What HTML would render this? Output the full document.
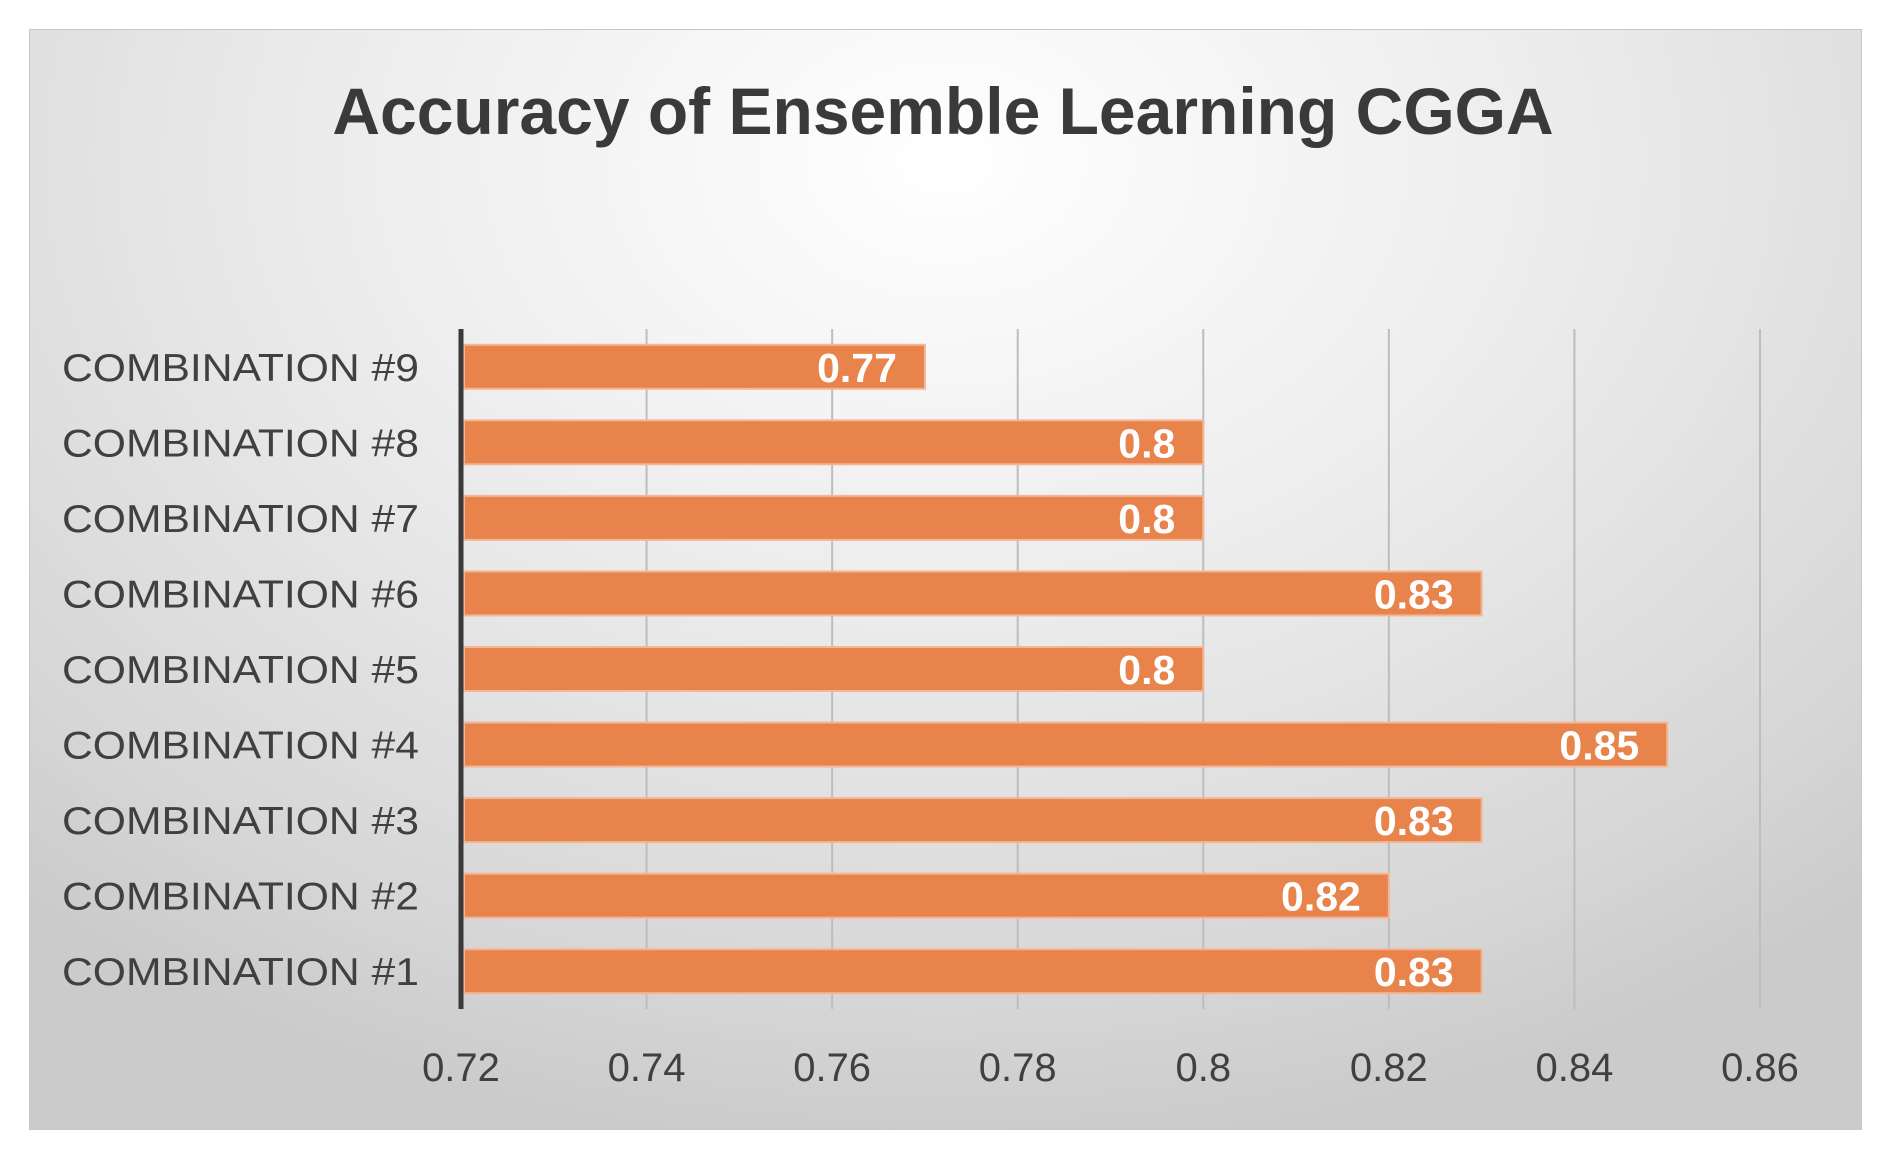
<!DOCTYPE html>
<html><head><meta charset="utf-8"><style>
html,body{margin:0;padding:0;background:#fff;}
body{width:1878px;height:1157px;overflow:hidden;position:relative;font-family:"Liberation Sans",sans-serif;}
#frame{position:absolute;left:29px;top:29px;width:1831px;height:1099px;background:radial-gradient(ellipse 75% 90% at 50% 12%,#ffffff 0%,#ececec 45%,#d6d6d6 85%,#cbcbcb 100%);border:1px solid #c8c8c8;}
</style></head><body>
<div id="frame"></div>
<svg id="chart" width="1878" height="1157" style="position:absolute;left:0;top:0">
<text x="943" y="134" text-anchor="middle" font-size="66" font-weight="bold" fill="#3a3a3a">Accuracy of Ensemble Learning CGGA</text>
<g id="grid"></g><g id="bars"></g><g id="labels"></g><g id="ticks"></g>
<line x1="461" y1="329" x2="461" y2="1009" stroke="#3a3a3a" stroke-width="5"/>
</svg>
<script>
const categories=["COMBINATION #1","COMBINATION #2","COMBINATION #3","COMBINATION #4","COMBINATION #5","COMBINATION #6","COMBINATION #7","COMBINATION #8","COMBINATION #9"];
const values=[0.83,0.82,0.83,0.85,0.8,0.83,0.8,0.8,0.77];
const valueLabels=["0.83","0.82","0.83","0.85","0.8","0.83","0.8","0.8","0.77"];
const tickValues=[0.72,0.74,0.76,0.78,0.8,0.82,0.84,0.86];
const tickLabels=["0.72","0.74","0.76","0.78","0.8","0.82","0.84","0.86"];
const NS="http://www.w3.org/2000/svg";
const x0=461,x1=1760,vmin=0.72,vmax=0.86,plotTop=329,plotBot=1009;
const xs=v=>x0+(v-vmin)/(vmax-vmin)*(x1-x0);
const band=(plotBot-plotTop)/categories.length;
const ys=i=>plotBot-(i+1)*band;
function mk(t,a,p){const e=document.createElementNS(NS,t);for(const k in a)e.setAttribute(k,a[k]);p.appendChild(e);return e;}
const G=document.getElementById('grid'),B=document.getElementById('bars'),L=document.getElementById('labels'),T=document.getElementById('ticks');
tickValues.forEach((v,i)=>{
 if(i>0){const l=mk('line',{x1:xs(v),x2:xs(v),y1:plotTop,y2:plotBot,stroke:'#bdbdbd','stroke-width':2},G);
 
 }
 const t=mk('text',{x:xs(v),y:1081,'text-anchor':'middle','font-size':40,fill:'#404040'},T);
 t.textContent=tickLabels[i];
 
 
});
categories.forEach((c,i)=>{
 const y=ys(i)+(band-44)/2;
 const r=mk('rect',{x:x0+3,y:y,width:xs(values[i])-x0-3,height:44,fill:'#e8834c',stroke:'#f3b795','stroke-width':2},B);
 
 
 const v=mk('text',{x:xs(values[i])-28,y:y+37,'text-anchor':'end','font-size':41,'font-weight':'bold',fill:'#fff'},B);
 v.textContent=valueLabels[i];
 
 
 const t=mk('text',{x:419,y:y+36,'text-anchor':'end','font-size':39,fill:'#404040',textLength:357,lengthAdjust:'spacingAndGlyphs'},L);
 t.textContent=c;
 
 
});
</script>
</body></html>
